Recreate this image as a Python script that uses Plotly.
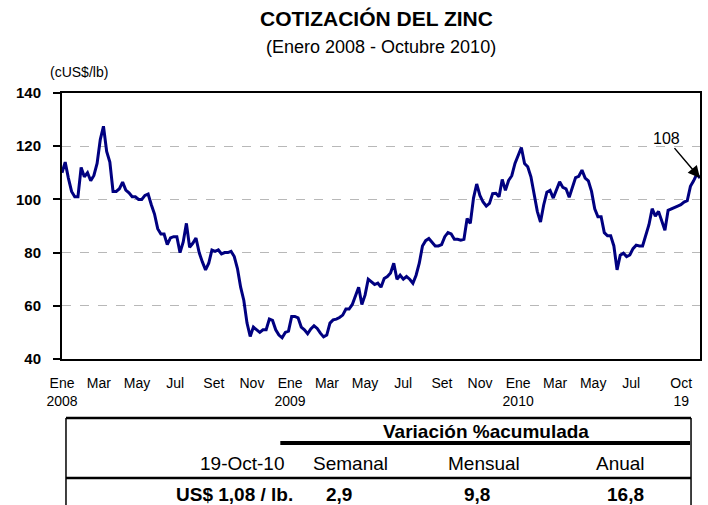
import pandas as pd
import plotly.graph_objects as go

# ---------------- data ----------------
fecha_inicio = "2008-01-02"
fecha_fin = "2010-10-19"

precio = [
    110, 114, 108, 103, 101, 101, 112, 108.5, 110, 107,
    109, 113.5, 122.5, 127.5, 118, 114, 103, 103, 104, 106.5,
    103.5, 102.5, 101, 101, 100, 100, 101.5, 102, 98, 94.5,
    89, 87, 87, 83, 85.5, 86, 86, 80, 84, 91,
    82, 83.5, 85.5, 80, 76.5, 73.5, 76, 81, 80.5, 81,
    79.5, 80, 80, 80.5, 78.5, 74, 67, 62, 53.5, 48.5,
    52, 51, 50, 51, 51, 55, 54.5, 51, 49, 48,
    50, 50.5, 56, 56, 55.5, 52, 51, 49.5, 51.3, 52.5,
    51.5, 49.7, 48.3, 49, 53.5, 54.7, 55, 55.6, 56.5, 58.8,
    58.8, 60.5, 64, 67, 60.5, 64, 70, 69, 68, 68.5,
    67, 70.3, 71, 72.3, 76, 70, 71.5, 70, 71, 70,
    68.5, 71.5, 76, 82.5, 84.5, 85.3, 83.7, 82.5, 82.5, 83,
    86, 87.5, 87, 85, 85, 84.7, 85, 92.8, 91, 100.5,
    105.8, 101.5, 99, 97.5, 98.5, 102.2, 102.3, 101, 107.5, 103.4,
    107.1, 108.9, 113.5, 116.5, 119.5, 113.5, 112.3, 108.5, 102, 95.5,
    91.5, 97.9, 102.7, 103.4, 100.5, 103.6, 106.6, 104.5, 104, 100.8,
    105, 108.2, 108.7, 111, 108, 107, 103, 96.5, 93.5, 93.5,
    87.5, 86.3, 86.3, 82.5, 73.5, 79, 79.8, 78.5, 79.1, 81.5,
    82.8, 82.5, 82.5, 86.7, 90.5, 96.5, 93.7, 95.5, 92, 88.4,
    95.9, 96.5, 97.2, 97.5, 98, 99, 99.5, 104.9, 107, 109.5,
    108,
]
fechas = pd.date_range(fecha_inicio, fecha_fin, periods=len(precio))

tick_fechas = [
    "2008-01-02", "2008-03-01", "2008-05-01", "2008-07-01", "2008-09-01", "2008-11-01",
    "2009-01-01", "2009-03-01", "2009-05-01", "2009-07-01", "2009-09-01", "2009-11-01",
    "2010-01-01", "2010-03-01", "2010-05-01", "2010-07-01", "2010-09-19",
]
tick_textos = [
    "Ene<br>2008", "Mar", "May", "Jul", "Set", "Nov",
    "Ene<br>2009", "Mar", "May", "Jul", "Set", "Nov",
    "Ene<br>2010", "Mar", "May", "Jul", "Oct<br>19",
]
y_ticks = [40, 60, 80, 100, 120, 140]

ultimo_valor = 108
titulo = "COTIZACIÓN DEL ZINC"
subtitulo = "(Enero 2008 - Octubre 2010)"
unidad = "(cUS$/lb)"

tabla_encabezado = "Variación %acumulada"
tabla_fecha = "19-Oct-10"
tabla_precio = "US$ 1,08 / lb."
tabla_columnas = ["Semanal", "Mensual", "Anual"]
tabla_valores = ["2,9", "9,8", "16,8"]

# ---------------- figure ----------------
FONT = "Arial, Liberation Sans, sans-serif"
W, H = 708, 505
L, R, T, B = 62, 6, 93, 146
PW, PH = W - L - R, H - T - B


def px(xp):
    return (xp - L) / PW


def py(yp):
    return (H - B - yp) / PH


fig = go.Figure()
fig.add_trace(go.Scatter(
    x=fechas, y=precio, mode="lines",
    line=dict(color="#000080", width=3),
    hoverinfo="skip", showlegend=False,
))

annotations = [
    dict(text=f"<b>{titulo}</b>", x=px(377), y=py(19), font=dict(size=21)),
    dict(text=subtitulo, x=px(382), y=py(47), font=dict(size=18)),
    dict(text=unidad, x=px(79), y=py(72), font=dict(size=14)),
    dict(text=f"<b>{tabla_encabezado}</b>", x=px(487), y=py(431), font=dict(size=19)),
    dict(text=tabla_fecha, x=px(243), y=py(463), font=dict(size=19)),
    dict(text=f"<b>{tabla_precio}</b>", x=px(235), y=py(494), font=dict(size=19)),
]
col_x = [351, 485, 622]
num_x = [340, 478, 627]
for cx, nx, c, v in zip(col_x, num_x, tabla_columnas, tabla_valores):
    annotations.append(dict(text=c, x=px(cx), y=py(463), font=dict(size=19)))
    annotations.append(dict(text=f"<b>{v}</b>", x=px(nx), y=py(494), font=dict(size=19)))
for a in annotations:
    a.update(xref="paper", yref="paper", showarrow=False,
             xanchor="center", yanchor="middle")
    a["font"].update(family=FONT, color="black")

annotations.append(dict(
    x=fechas[-1], y=precio[-1], xref="x", yref="y",
    text=str(ultimo_valor), showarrow=True,
    ax=-34, ay=-40, arrowhead=2, arrowsize=1.6, arrowwidth=1.5,
    arrowcolor="black", font=dict(family=FONT, size=16, color="black"),
))

shapes = [
    dict(type="line", x0=px(66), x1=px(693), y0=py(418), y1=py(418), line=dict(color="black", width=2.5)),
    dict(type="line", x0=px(66), x1=px(66), y0=py(418), y1=py(510), line=dict(color="black", width=1.5)),
    dict(type="line", x0=px(693), x1=px(693), y0=py(418), y1=py(510), line=dict(color="black", width=1.5)),
    dict(type="line", x0=px(281), x1=px(692), y0=py(443), y1=py(443), line=dict(color="black", width=4)),
    dict(type="line", x0=px(66), x1=px(693), y0=py(478), y1=py(478), line=dict(color="black", width=2.5)),
]
for s in shapes:
    s.update(xref="paper", yref="paper", layer="above")

fig.update_layout(
    width=W, height=H,
    margin=dict(l=L, r=R, t=T, b=B),
    paper_bgcolor="white", plot_bgcolor="white",
    font=dict(family=FONT, color="black"),
    annotations=annotations, shapes=shapes,
    showlegend=False,
)
fig.update_xaxes(
    type="date", range=[fecha_inicio, fecha_fin],
    tickvals=tick_fechas, ticktext=tick_textos, tickangle=0,
    showgrid=False, ticks="", ticklabelstandoff=10,
    tickfont=dict(family=FONT, size=14, color="black"),
    showline=True, linecolor="black", linewidth=2, mirror=True,
    zeroline=False,
)
fig.update_yaxes(
    range=[40, 140], tickvals=y_ticks,
    showgrid=True, gridcolor="#b8b8b8", gridwidth=1, griddash="dash",
    ticks="outside", ticklen=7, tickwidth=1.5, tickcolor="black",
    ticklabelstandoff=9,
    tickfont=dict(family=FONT, size=15, color="black", weight="bold"),
    showline=True, linecolor="black", linewidth=2, mirror=True,
    zeroline=False,
)

fig.write_html(
    "out.html",
    config={"displayModeBar": False},
    post_script="document.body.style.margin='0';document.body.style.overflow='hidden';",
)
